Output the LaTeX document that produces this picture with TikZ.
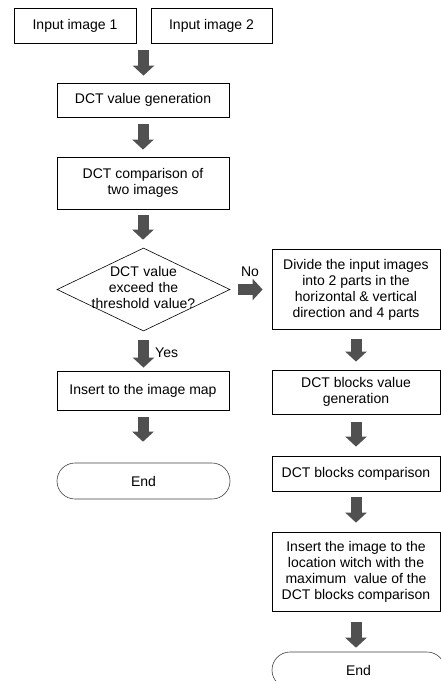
\documentclass[tikz,border=0pt]{standalone}
\usepackage{fontspec}
\setmainfont{Liberation Sans}
\usetikzlibrary{arrows.meta,shapes.geometric}

\definecolor{arrowgray}{RGB}{80,80,80}

\tikzset{
  box/.style={draw=black, line width=0.8pt, align=center, inner sep=2pt,
    font=\fontsize{14}{16}\selectfont},
  endbox/.style={draw=black!75, line width=0.6pt, rounded corners=18pt,
    minimum width=173pt, minimum height=36pt, font=\fontsize{14}{16}\selectfont},
  fatarrow/.style={draw=arrowgray, line width=11pt,
    -{Triangle[width=21pt,length=10pt]}},
  lbl/.style={font=\fontsize{14}{16}\selectfont, inner sep=0pt}
}

\begin{document}
\begin{tikzpicture}[x=1pt, y=-1pt]

\clip (0,0) rectangle (441,681);

% left column
\node[box, minimum width=122pt, minimum height=35pt] at (75,25.5) (in1) {Input image 1};
\node[box, minimum width=121pt, minimum height=35pt] at (211.5,25.5) (in2) {Input image 2};
\coordinate (join) at (143.5,43);

\node[box, minimum width=172pt, minimum height=34pt] at (143,100) (gen) {DCT value generation};
\node[box, minimum width=172pt, minimum height=52pt] at (143,183) (cmp) {DCT comparison of\\two images};

\node[diamond, draw=black, line width=0.6pt, inner sep=0pt,
      minimum width=173pt, minimum height=83pt] at (143.5,289.5) (dec) {};
\node[lbl, align=center, text width=120pt] at (143.5,287) (dectext) {DCT value\\exceed the\\threshold value?};

\node[box, minimum width=172pt, minimum height=39pt] at (143,390.5) (ins) {Insert to the image map};
\node[endbox] at (143.5,481) (end1) {End};

% right column
\node[box, minimum width=168pt, minimum height=80pt] at (356,289.5) (div)
  {Divide the input images\\into 2 parts in the\\horizontal \& vertical\\direction and 4 parts};
\node[box, minimum width=168pt, minimum height=44pt] at (356,392) (blk) {DCT blocks value\\generation};
\node[box, minimum width=168pt, minimum height=35pt] at (356,473.5) (bcmp) {DCT blocks comparison};
\node[box, minimum width=168pt, minimum height=79pt] at (356,571.5) (put)
  {Insert the image to the\\location witch with the\\maximum \ value of the\\DCT blocks comparison};
\node[endbox] at (358.5,670) (end2) {End};

% arrows
\draw[fatarrow, shorten <=7pt, shorten >=7pt] (join) -- (join |- gen.north);
\draw[fatarrow, shorten <=7pt, shorten >=7pt] (gen) -- (cmp);
\draw[fatarrow, shorten <=6pt, shorten >=8pt] (cmp.south) -- (cmp.south |- dec.north);
\draw[fatarrow, shorten <=9pt, shorten >=3pt] (dec.south) -- (dec.south |- ins.north);
\draw[fatarrow, shorten <=7pt, shorten >=21pt] (ins.south) -- (ins.south |- end1.north);

\draw[fatarrow, shorten <=8pt, shorten >=9pt] (dec.east) -- (dec.east -| div.west);

\draw[fatarrow, shorten <=9pt, shorten >=8pt] (div) -- (blk);
\draw[fatarrow, shorten <=8pt, shorten >=9pt] (blk) -- (bcmp);
\draw[fatarrow, shorten <=6pt, shorten >=9pt] (bcmp) -- (put);
\draw[fatarrow, shorten <=11pt, shorten >=4pt] (put.south) -- (put.south |- end2.north);

% labels
\node[lbl] at (250,272) (no) {No};
\node[lbl, anchor=west] at (155,353) (yes) {Yes};

\end{tikzpicture}
\end{document}
